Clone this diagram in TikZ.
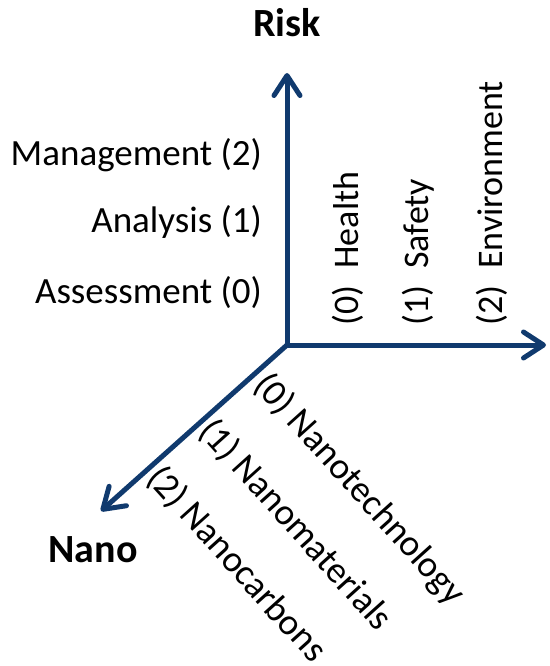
\documentclass[tikz,border=0pt]{standalone}
\usepackage{fontspec}
\setmainfont{Carlito}
\usetikzlibrary{arrows.meta}
\definecolor{axisblue}{RGB}{16,58,110}
\begin{document}
\begin{tikzpicture}[x=1pt,y=1pt,
  axis/.style={draw=axisblue, line width=5pt, -{Straight Barb[length=20pt,width=26pt,round]}},
  lbl/.style={inner sep=0pt, font=\fontsize{37}{44}\selectfont},
  vlbl/.style={inner sep=0pt, font=\fontsize{36}{43}\selectfont, rotate=90, anchor=base west},
  axtitle/.style={inner sep=0pt, font=\fontsize{40}{48}\selectfont\bfseries}]
\useasboundingbox (0,0) rectangle (549,-666);
% axes
\coordinate (O) at (287,-345);
\coordinate (R) at (287,-73);
\coordinate (E) at (546,-345);
\coordinate (N) at (101,-511);
\draw[axis] (O) -- (R);
\draw[axis] (O) -- (E);
\draw[axis] (O) -- (N);
% axis titles
\node[axtitle] (risk) at (287,-23) {Risk};
\node[axtitle] (nano) at (93,-550) {Nano};
% risk levels
\node[lbl, anchor=base east] (mgmt) at (262,-165) {Management (2)};
\node[lbl, anchor=base east] (anal) at (262,-232) {Analysis (1)};
\node[lbl, anchor=base east] (asse) at (262,-303) {Assessment (0)};
% hazard categories
\node[vlbl] (health) at (358,-326) {(0)\hspace{9pt} Health};
\node[vlbl] (safety) at (428,-326) {(1)\hspace{9pt} Safety};
\node[vlbl] (envir) at (502,-326) {(2)\hspace{9pt} Environment};
% nano scope
\node[lbl, rotate=-48, anchor=base west] (ntech) at (252,-386) {(0) Nanotechnology};
\node[lbl, rotate=-48, anchor=base west] (nmat) at (197,-432) {(1) Nanomaterials};
\node[lbl, rotate=-48, anchor=base west] (ncarb) at (145,-479) {(2) Nanocarbons};
\end{tikzpicture}
\end{document}
